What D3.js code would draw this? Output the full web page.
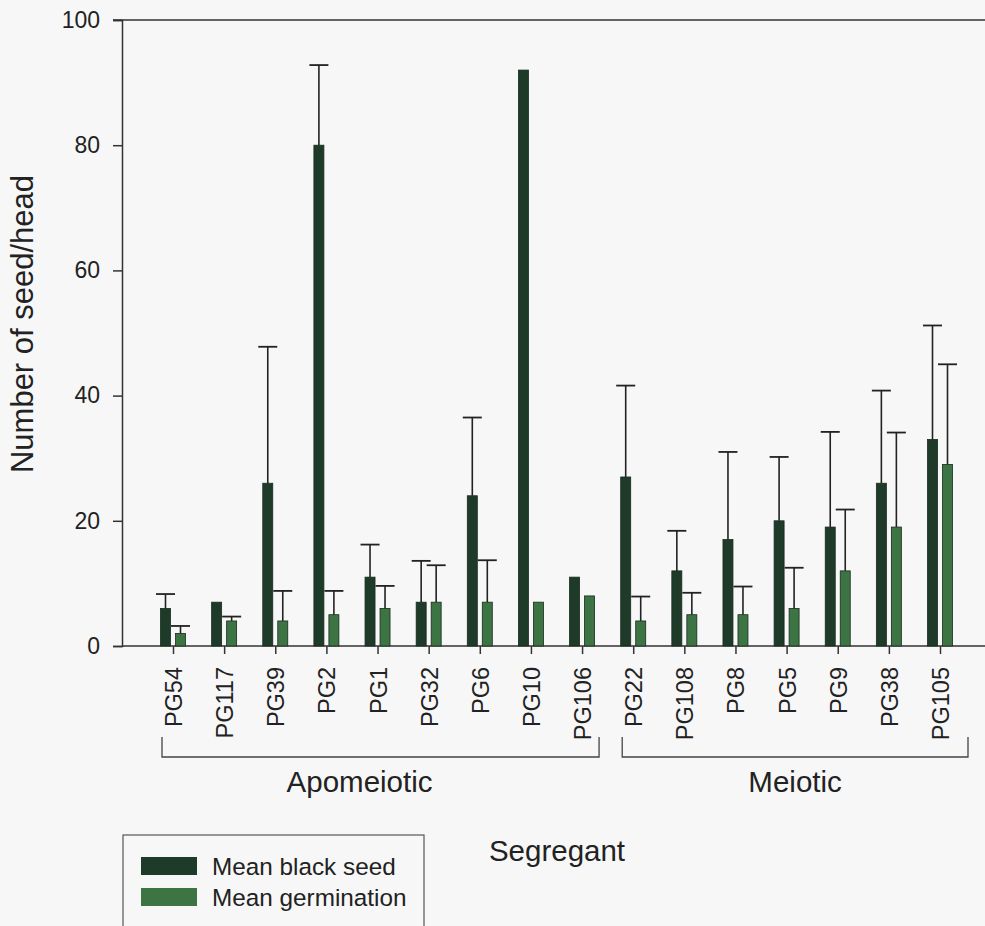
<!DOCTYPE html>
<html>
<head>
<meta charset="utf-8">
<script src="https://cdn.jsdelivr.net/npm/d3@7"></script>
<style>
  body { margin: 0; background: #f7f7f7; }
  svg { display: block; font-family: "Liberation Sans", Arial, sans-serif; }
</style>
</head>
<body>
<div id="chart"></div>
<script>
"use strict";

const categories = ["PG54", "PG117", "PG39", "PG2", "PG1", "PG32", "PG6", "PG10", "PG106",
  "PG22", "PG108", "PG8", "PG5", "PG9", "PG38", "PG105"];

const blackSeed = [6, 7, 26, 80, 11, 7, 24, 92, 11, 27, 12, 17, 20, 19, 26, 33];
const blackSeedErr = [2.3, null, 21.8, 12.8, 5.2, 6.6, 12.5, null, null, 14.6, 6.4, 14.0, 10.2, 15.2, 14.8, 18.2];

const germination = [2, 4, 4, 5, 6, 7, 7, 7, 8, 4, 5, 5, 6, 12, 19, 29];
const germinationErr = [1.2, 0.7, 4.8, 3.8, 3.6, 5.9, 6.7, null, null, 3.9, 3.5, 4.5, 6.5, 9.8, 15.1, 16.0];

const groups = [
  { name: "Apomeiotic", first: "PG54", last: "PG106" },
  { name: "Meiotic", first: "PG22", last: "PG105" }
];

const yTicks = [0, 20, 40, 60, 80, 100];

const seriesNames = ["Mean black seed", "Mean germination"];
const colors = ["#1d3b28", "#3d7443"];

const width = 985;
const height = 926;

const svg = d3.select("#chart").append("svg")
  .attr("width", width)
  .attr("height", height);

const x = d3.scalePoint()
  .domain(categories)
  .range([173, 940]);

const y = d3.scaleLinear()
  .domain([0, 100])
  .range([646, 20]);

const barWidth = 10;
const barOffset = 7.5;
const capHalf = 9.5;

// y axis
const yAxis = svg.append("g")
  .attr("transform", "translate(122,0)")
  .call(d3.axisLeft(y).tickValues(yTicks).tickSize(9).tickPadding(13));

yAxis.select(".domain").attr("stroke", "#333").attr("stroke-width", 1.5);
yAxis.selectAll(".tick line").attr("stroke", "#333").attr("stroke-width", 1.5);
yAxis.selectAll(".tick text")
  .attr("fill", "#222")
  .style("font-size", "23px");

// top frame line and baseline
svg.append("line")
  .attr("x1", 113).attr("x2", width)
  .attr("y1", y(100)).attr("y2", y(100))
  .attr("stroke", "#333").attr("stroke-width", 1.5);

svg.append("line")
  .attr("x1", 122).attr("x2", width)
  .attr("y1", y(0)).attr("y2", y(0))
  .attr("stroke", "#333").attr("stroke-width", 1.5);

// x axis
const xAxis = svg.append("g")
  .attr("transform", "translate(0," + y(0) + ")")
  .call(d3.axisBottom(x).tickSize(8).tickPadding(0));

xAxis.select(".domain").remove();
xAxis.selectAll(".tick line").attr("stroke", "#333").attr("stroke-width", 1.5);
xAxis.selectAll(".tick text")
  .attr("fill", "#222")
  .style("font-size", "23.5px")
  .attr("text-anchor", "end")
  .attr("transform", "rotate(-90)")
  .attr("x", -21)
  .attr("y", 0)
  .attr("dy", "0.36em");

// bars
const series = [
  { values: blackSeed, errs: blackSeedErr, shift: -barOffset, color: colors[0] },
  { values: germination, errs: germinationErr, shift: barOffset, color: colors[1] }
];

series.forEach(function(s) {
  const rows = categories.map(function(c, i) {
    return { cat: c, value: s.values[i], err: s.errs[i] };
  });

  const g = svg.append("g");

  // error bars first so bars sit on top
  const withErr = rows.filter(function(d) { return d.err != null; });

  g.selectAll(".err")
    .data(withErr)
    .join("line")
    .attr("class", "err")
    .attr("x1", function(d) { return x(d.cat) + s.shift; })
    .attr("x2", function(d) { return x(d.cat) + s.shift; })
    .attr("y1", function(d) { return y(d.value); })
    .attr("y2", function(d) { return y(d.value + d.err); })
    .attr("stroke", "#222")
    .attr("stroke-width", 1.6);

  g.selectAll(".cap")
    .data(withErr)
    .join("line")
    .attr("class", "cap")
    .attr("x1", function(d) { return x(d.cat) + s.shift - capHalf; })
    .attr("x2", function(d) { return x(d.cat) + s.shift + capHalf; })
    .attr("y1", function(d) { return y(d.value + d.err); })
    .attr("y2", function(d) { return y(d.value + d.err); })
    .attr("stroke", "#222")
    .attr("stroke-width", 1.8);

  g.selectAll(".bar")
    .data(rows)
    .join("rect")
    .attr("class", "bar")
    .attr("x", function(d) { return x(d.cat) + s.shift - barWidth / 2; })
    .attr("y", function(d) { return y(d.value); })
    .attr("width", barWidth)
    .attr("height", function(d) { return y(0) - y(d.value); })
    .attr("fill", s.color)
    .attr("stroke", "#1a2a1e")
    .attr("stroke-width", 0.8);
});

// group brackets
const bracketTop = 737;
const bracketY = 757;

groups.forEach(function(grp, i) {
  const left = x(grp.first) - 11;
  const right = x(grp.last) + (i === 0 ? 17 : 28);

  svg.append("path")
    .attr("d", "M" + left + "," + bracketTop + " V" + bracketY + " H" + right + " V" + bracketTop)
    .attr("fill", "none")
    .attr("stroke", "#444")
    .attr("stroke-width", 1.3);

  svg.append("text")
    .attr("x", i === 0 ? (left + right) / 2 - 21 : (left + right) / 2)
    .attr("y", 792)
    .attr("text-anchor", "middle")
    .attr("fill", "#222")
    .style("font-size", "29.5px")
    .text(grp.name);
});

// axis titles
svg.append("text")
  .attr("transform", "translate(33,324) rotate(-90)")
  .attr("text-anchor", "middle")
  .attr("fill", "#222")
  .style("font-size", "31px")
  .text("Number of seed/head");

svg.append("text")
  .attr("x", 557)
  .attr("y", 861)
  .attr("text-anchor", "middle")
  .attr("fill", "#222")
  .style("font-size", "29.5px")
  .text("Segregant");

// legend
const legend = svg.append("g");

legend.append("rect")
  .attr("x", 123).attr("y", 835)
  .attr("width", 301).attr("height", 110)
  .attr("fill", "none")
  .attr("stroke", "#555")
  .attr("stroke-width", 1.2);

const items = legend.selectAll(".item")
  .data(seriesNames)
  .join("g")
  .attr("class", "item")
  .attr("transform", function(d, i) { return "translate(141," + (857 + i * 31) + ")"; });

items.append("rect")
  .attr("width", 56)
  .attr("height", 18)
  .attr("fill", function(d, i) { return colors[i]; });

items.append("text")
  .attr("x", 71)
  .attr("y", 9)
  .attr("dy", "0.36em")
  .attr("fill", "#222")
  .style("font-size", "24.3px")
  .text(function(d) { return d; });
</script>
</body>
</html>
